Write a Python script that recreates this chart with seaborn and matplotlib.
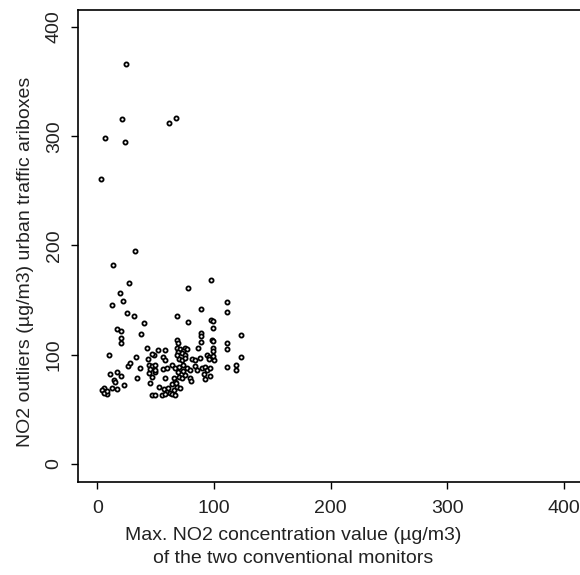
import matplotlib
matplotlib.use("Agg")
import matplotlib.pyplot as plt
import seaborn as sns
import pandas as pd

max_no2_conventional = [
    24.9, 20.9, 61.2, 67.2, 6.9, 24.0, 3.4, 32.6, 13.5, 26.9, 19.5, 77.5, 97.3,
    21.7, 12.6, 111.3, 111.3, 89.0, 25.2, 31.8, 40.1, 68.4, 77.5, 97.3, 99.3,
    99.3, 17.2, 20.6, 37.2, 20.6, 20.0, 123.3, 89.0, 89.0, 89.0, 98.1, 99.3,
    111.3, 68.4, 68.9, 42.7, 52.1, 58.4, 68.4, 75.5, 77.0, 86.1, 99.3, 111.3,
    70.6, 99.3, 69.5, 73.8, 9.7, 123.3, 33.2, 43.5, 48.3, 56.4, 58.4, 68.4,
    72.7, 75.5, 69.8, 72.7, 75.5, 81.3, 84.1, 88.4, 94.2, 96.1, 95.5, 99.8,
    99.3, 26.4, 28.3, 36.9, 44.0, 47.0, 49.2, 56.1, 59.8, 64.1, 67.0, 69.8,
    73.6, 77.0, 79.8, 83.5, 85.6, 89.9, 92.7, 94.2, 97.0, 111.3, 119.1, 119.1,
    11.2, 16.9, 20.6, 14.0, 15.5, 34.1, 44.0, 47.0, 49.8, 45.5, 49.2, 58.4,
    65.5, 67.0, 69.8, 72.7, 75.5, 79.8, 80.7, 91.2, 92.7, 97.0, 45.5, 22.6,
    5.4, 6.9, 8.3, 12.6, 16.9, 52.6, 56.9, 59.8, 62.7, 65.5, 68.4, 71.2, 47.0,
    49.8, 55.5, 58.4, 64.1, 67.0, 4.3, 6.0, 8.6, 64.4, 67.8, 60.9, 69.5, 73.8,
    47.0,
]
no2_outliers_airboxes = [
    366.1, 316.1, 312.4, 316.7, 298.7, 295.0, 260.9, 195.2, 182.4, 165.7, 156.8,
    160.8, 168.7, 149.2, 145.5, 148.0, 139.4, 142.2, 137.9, 135.5, 129.3, 135.7,
    129.7, 131.8, 130.6, 124.8, 123.3, 121.7, 118.7, 115.1, 111.0, 117.8, 120.2,
    117.4, 111.4, 113.8, 112.6, 111.0, 113.5, 110.5, 105.9, 104.3, 104.3, 105.9,
    106.5, 105.3, 105.9, 105.9, 105.0, 105.3, 103.4, 102.5, 103.4, 99.8, 98.2,
    97.7, 95.8, 99.8, 97.7, 95.2, 99.8, 101.3, 99.8, 96.1, 95.2, 96.8, 96.1,
    95.2, 96.8, 99.8, 98.2, 96.1, 95.2, 99.1, 90.0, 92.2, 87.6, 90.6, 89.7,
    90.6, 86.7, 88.1, 90.6, 88.1, 89.1, 90.6, 88.1, 86.0, 89.7, 86.0, 87.6,
    89.1, 86.0, 87.6, 89.1, 90.6, 86.0, 82.1, 83.9, 80.8, 76.9, 74.8, 79.0,
    83.0, 79.9, 83.9, 87.0, 86.0, 78.4, 78.4, 75.3, 79.9, 78.4, 81.5, 78.4,
    76.0, 82.1, 77.8, 80.8, 73.9, 72.3, 69.3, 66.2, 63.8, 69.3, 68.6, 70.8,
    68.4, 66.2, 64.7, 67.7, 70.8, 69.8, 63.2, 63.2, 63.2, 63.8, 63.8, 63.2,
    67.7, 65.0, 66.8, 73.2, 74.1, 69.6, 84.2, 85.1, 100.4,
]
x_ticks = [0, 100, 200, 300, 400]
y_ticks = [0, 100, 200, 300, 400]
x_label = "Max. NO2 concentration value (µg/m3)\nof the two conventional monitors"
y_label = "NO2 outliers (µg/m3) urban traffic ariboxes"

df = pd.DataFrame({"x": max_no2_conventional, "y": no2_outliers_airboxes})

sns.set_style("ticks")
plt.rcParams["font.family"] = ["Liberation Sans", "DejaVu Sans"]

fig = plt.figure(figsize=(5.8, 5.75), dpi=100)
ax = fig.add_axes([78 / 580, 93 / 575, 504 / 580, 472 / 575])

sns.scatterplot(data=df, x="x", y="y", ax=ax, marker="o", s=9,
                facecolor="white", edgecolor="black", linewidth=1.3,
                legend=False)

ax.set_xlim(-16.5, 415.5)
ax.set_ylim(-16.5, 415.5)
ax.set_xticks(x_ticks)
ax.set_yticks(y_ticks)
ax.set_xticklabels([str(v) for v in x_ticks], fontsize=14, color="#222222")
ax.set_yticklabels([str(v) for v in y_ticks], fontsize=14, color="#222222",
                   rotation=90, va="center")
ax.tick_params(axis="both", direction="out", length=5, width=1, color="black")
ax.tick_params(axis="x", pad=8)
ax.tick_params(axis="y", pad=6)
for side in ["left", "bottom", "top"]:
    ax.spines[side].set_color("black")
    ax.spines[side].set_linewidth(1.2)
ax.spines["right"].set_visible(False)

ax.set_xlabel(x_label, fontsize=14, color="#222222", linespacing=1.5)
ax.set_ylabel(y_label, fontsize=14, color="#222222")
ax.xaxis.set_label_coords(0.427, -0.095, transform=ax.transAxes)
ax.xaxis.label.set_va("top")
ax.yaxis.set_label_coords(-0.088, 0.466, transform=ax.transAxes)

fig.savefig("out.png", dpi=100)
